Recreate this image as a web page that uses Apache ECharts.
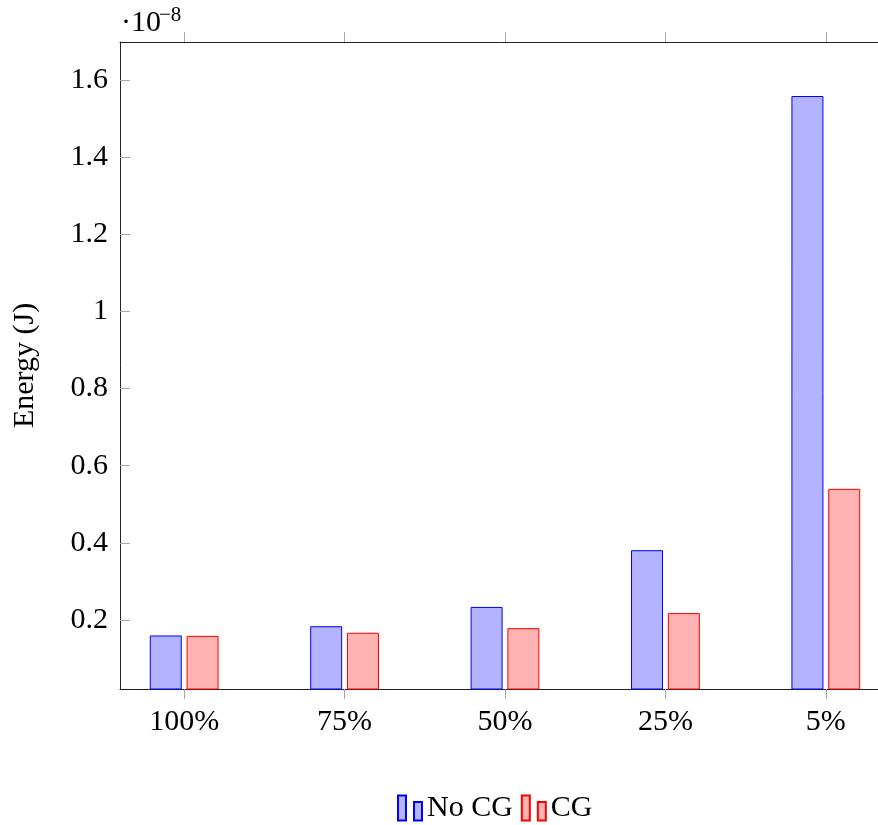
<!DOCTYPE html>
<html>
<head>
<meta charset="utf-8">
<script src="https://cdn.jsdelivr.net/npm/echarts@6/dist/echarts.min.js"></script>
<style>
  html, body { margin: 0; padding: 0; background: #fff; }
  #main { width: 878px; height: 825px; }
</style>
</head>
<body>
<div id="main"></div>
<script>
// categories along x
var categories = ['100%', '75%', '50%', '25%', '5%'];
// energy, in units of 1e-8 J
var noCG = [0.160, 0.184, 0.234, 0.381, 1.558];
var cg = [0.159, 0.167, 0.179, 0.218, 0.540];
var yTicks = [0.2, 0.4, 0.6, 0.8, 1.0, 1.2, 1.4, 1.6];
var xTicks = [0, 1, 2, 3, 4];

var FONT = '"Liberation Serif", "DejaVu Serif", serif';
var tickColor = '#a8a8a8';
var lineColor = '#222';

function toPairs(vals) {
    return vals.map(function (v, i) { return [i, v]; });
}

var myChart = echarts.init(document.getElementById('main'));

var option = {
    animation: false,
    textStyle: { fontFamily: FONT, color: '#000' },
    grid: {
        left: 120,
        top: 42,
        width: 770,
        height: 647,
        outerBoundsMode: 'none',
        containLabel: false
    },
    graphic: [
        {
            type: 'text',
            x: 121, y: 23,
            style: { text: '·10', font: '30px ' + FONT, fill: '#000', verticalAlign: 'middle' }
        },
        {
            type: 'text',
            x: 159, y: 15,
            style: { text: '−8', font: '21px ' + FONT, fill: '#000', verticalAlign: 'middle' }
        }
    ],
    legend: {
        left: 397,
        top: 793,
        padding: 0,
        itemWidth: 24,
        itemHeight: 25,
        itemGap: 8,
        icon: 'path://M0,0H8V25H0Z M16,6.5H24V25H16Z',
        textStyle: { fontFamily: FONT, fontSize: 30, color: '#000' },
        data: ['No CG', 'CG']
    },
    xAxis: [
        {
            type: 'value',
            position: 'bottom',
            min: -0.4,
            max: 4.4,
            splitLine: { show: false },
            axisLine: { show: true, onZero: false, lineStyle: { color: lineColor, width: 1 } },
            axisTick: {
                show: true, inside: false, length: 10,
                customValues: xTicks,
                lineStyle: { color: tickColor }
            },
            axisLabel: {
                customValues: xTicks,
                margin: 18,
                fontSize: 30,
                fontFamily: FONT,
                color: '#000',
                formatter: function (v) { return categories[Math.round(v)]; }
            }
        },
        {
            type: 'value',
            position: 'top',
            min: -0.4,
            max: 4.4,
            splitLine: { show: false },
            axisLine: { show: true, onZero: false, lineStyle: { color: lineColor, width: 1 } },
            axisTick: {
                show: true, inside: false, length: 10,
                customValues: xTicks,
                lineStyle: { color: tickColor }
            },
            axisLabel: { show: false }
        }
    ],
    yAxis: {
        type: 'value',
        min: 0.0213,
        max: 1.698,
        name: 'Energy (J)',
        nameLocation: 'middle',
        nameGap: 80,
        nameTextStyle: { fontFamily: FONT, fontSize: 30, color: '#000' },
        splitLine: { show: false },
        axisLine: { show: true, onZero: false, lineStyle: { color: lineColor, width: 1 } },
        axisTick: {
            show: true, inside: true, length: 10,
            customValues: yTicks,
            lineStyle: { color: tickColor }
        },
        axisLabel: {
            customValues: yTicks,
            margin: 12,
            fontSize: 30,
            fontFamily: FONT,
            color: '#000',
            formatter: function (v) { return String(Math.round(v * 10) / 10); }
        }
    },
    series: [
        {
            name: 'No CG',
            type: 'bar',
            xAxisIndex: 0,
            barWidth: 32,
            barGap: '15%',
            itemStyle: { color: '#b3b3ff', borderColor: '#0000ff', borderWidth: 1 },
            data: toPairs(noCG)
        },
        {
            name: 'CG',
            type: 'bar',
            xAxisIndex: 0,
            barWidth: 32,
            barGap: '15%',
            itemStyle: { color: '#ffb3b3', borderColor: '#ff0000', borderWidth: 1 },
            data: toPairs(cg)
        }
    ]
};

myChart.setOption(option);
</script>
</body>
</html>
